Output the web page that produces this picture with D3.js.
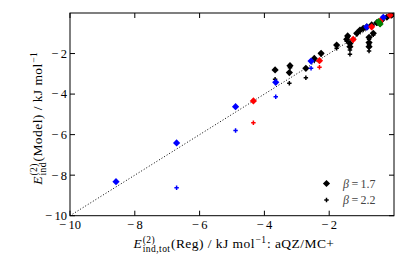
<!DOCTYPE html>
<html>
<head>
<meta charset="utf-8">
<script src="https://cdn.jsdelivr.net/npm/d3@7"></script>
<style>
    body { margin: 0; background: #fff; }
    text { font-family: "Liberation Serif", "DejaVu Serif", serif; fill: #000; }
</style>
</head>
<body>
<div id="chart"></div>
<script>
// beta = 1.7 (big markers) and beta = 2.2 (small markers) share the x value
const blackX     = [-3.67, -3.21, -3.23, -2.72, -2.46, -2.25, -1.77, -1.43, -1.46, -1.36, -1.36, -0.77, -0.77, -0.77, -0.64, -1.15, -1.05, -0.95, -0.84, -0.69, -0.53, -0.38, -0.22, -0.07];
const blackBig   = [-2.81, -2.60, -2.94, -2.73, -2.24, -1.99, -1.58, -1.13, -1.30, -1.50, -1.66, -1.20, -1.46, -1.66, -1.00, -1.00, -0.84, -0.76, -0.68, -0.59, -0.48, -0.35, -0.21, -0.10];
const blackSmall = [-3.27, -2.70, -3.47, -3.19, -2.35, -2.05, -1.74, -1.20, -1.40, -1.83, -2.04, -1.30, -1.55, -1.87, -1.08, -1.05, -0.90, -0.80, -0.72, -0.64, -0.52, -0.38, -0.24, -0.12];

const blueX     = [-8.58, -6.71, -4.89, -3.65, -2.56, -0.84, -0.33];
const blueBig   = [-8.32, -6.41, -4.62, -3.42, -2.37, -0.68, -0.21];
const blueSmall = [null, -8.62, -5.80, -4.13, -2.73, -0.74, -0.24];

const redX     = [-4.34, -2.30, -1.26, -0.69, -0.43, -0.12];
const redBig   = [-4.34, -2.35, -1.30, -0.68, -0.40, -0.10];
const redSmall = [-5.41, -2.68, -1.36, -0.72, -0.48, -0.13];

const greenX     = [-0.48, -0.43];
const greenBig   = [-0.43, -0.54];
const greenSmall = [-0.46, -0.58];

const xTicks = [-10, -8, -6, -4, -2];
const yTicks = [-10, -8, -6, -4, -2];
const legendLabels = ["1.7", "2.2"];

const series = [
    {color: "#000000", x: blackX, big: blackBig, small: blackSmall},
    {color: "#0000ff", x: blueX, big: blueBig, small: blueSmall},
    {color: "#ff0000", x: redX, big: redBig, small: redSmall},
    {color: "#008000", x: greenX, big: greenBig, small: greenSmall}
];

const W = 415, H = 260;
const margin = {top: 13, right: 21, bottom: 44.3, left: 70};
const width = W - margin.left - margin.right;
const height = H - margin.top - margin.bottom;

const svg = d3.select("#chart").append("svg")
    .attr("width", W)
    .attr("height", H);

const g = svg.append("g")
    .attr("transform", `translate(${margin.left}, ${margin.top})`);

const x = d3.scaleLinear().domain([-10, 0]).range([0, width]);
const y = d3.scaleLinear().domain([-10, 0]).range([height, 0]);

g.append("clipPath").attr("id", "clip")
    .append("rect").attr("width", width).attr("height", height);

// y = x reference line
g.append("line")
    .attr("x1", x(-10)).attr("y1", y(-10))
    .attr("x2", x(0)).attr("y2", y(0))
    .attr("stroke", "#000")
    .attr("stroke-width", 1)
    .attr("stroke-dasharray", "1,2");

const bigSym = d3.symbol().type(d3.symbolSquare).size(26);
const smallSym = d3.symbol().type(d3.symbolCross).size(11);

const pts = g.append("g").attr("clip-path", "url(#clip)");

series.forEach(s => {
    const rows = s.x.map((v, i) => ({x: v, big: s.big[i], small: s.small[i]}));
    pts.selectAll(null)
        .data(rows.filter(d => d.small !== null))
        .enter()
        .append("path")
        .attr("d", smallSym)
        .attr("transform", d => `translate(${x(d.x)}, ${y(d.small)})`)
        .attr("fill", s.color);
    pts.selectAll(null)
        .data(rows)
        .enter()
        .append("path")
        .attr("d", bigSym)
        .attr("transform", d => `translate(${x(d.x)}, ${y(d.big)}) rotate(45)`)
        .attr("fill", s.color);
});

// ticks (inward, on all four sides)
const tickLen = 5;
const fmt = t => "\u2212\u2009" + Math.abs(t);
xTicks.forEach(t => {
    g.append("line").attr("x1", x(t)).attr("x2", x(t)).attr("y1", height).attr("y2", height - tickLen).attr("stroke", "#000");
    g.append("line").attr("x1", x(t)).attr("x2", x(t)).attr("y1", 0).attr("y2", tickLen).attr("stroke", "#000");
    g.append("text")
        .attr("x", x(t)).attr("y", height + 13)
        .attr("text-anchor", "middle")
        .attr("font-size", 12.5)
        .text(fmt(t));
});
yTicks.forEach(t => {
    g.append("line").attr("y1", y(t)).attr("y2", y(t)).attr("x1", 0).attr("x2", tickLen).attr("stroke", "#000");
    g.append("line").attr("y1", y(t)).attr("y2", y(t)).attr("x1", width).attr("x2", width - tickLen).attr("stroke", "#000");
    g.append("text")
        .attr("x", -3).attr("y", y(t))
        .attr("dy", "0.35em")
        .attr("text-anchor", "end")
        .attr("font-size", 12.5)
        .text(fmt(t));
});

g.append("rect")
    .attr("width", width).attr("height", height)
    .attr("fill", "none")
    .attr("stroke", "#000")
    .attr("stroke-width", 1);

// label with stacked super/subscript after E
function mathLabel(parent, sub, rest, tail) {
    const lab = parent.append("g").style("letter-spacing", "0.45px");
    let cx = 0;
    const e = lab.append("text").attr("x", cx).attr("font-size", 13.5).attr("font-style", "italic").text("E");
    cx += e.node().getComputedTextLength() + 0.5;
    const sp = lab.append("text").attr("x", cx).attr("y", -5.5).attr("font-size", 9.5).text("(2)");
    const sb = lab.append("text").attr("x", cx).attr("y", 3.5).attr("font-size", 9.5).text(sub);
    cx += Math.max(sp.node().getComputedTextLength(), sb.node().getComputedTextLength()) + 0.5;
    const r = lab.append("text").attr("x", cx).attr("font-size", 13.5).text(rest);
    cx += r.node().getComputedTextLength() + 0.5;
    const ex = lab.append("text").attr("x", cx).attr("y", -5.5).attr("font-size", 9.5).text("\u22121");
    cx += ex.node().getComputedTextLength() + 0.5;
    if (tail) {
        const t = lab.append("text").attr("x", cx).attr("font-size", 13.5).text(tail);
        cx += t.node().getComputedTextLength();
    }
    return {lab, w: cx};
}

const xl = mathLabel(svg, "ind,tot", "(Reg) / kJ mol", " : aQZ/MC+");
xl.lab.attr("transform", `translate(${234 - xl.w / 2}, 248)`);

const yl = mathLabel(svg, "ind", "(Model) / kJ mol", null);
yl.lab.attr("transform", `translate(42, ${118 + yl.w / 2}) rotate(-90)`);

// legend
const legend = g.append("g");
legendLabels.forEach((l, i) => {
    const ly = 170.5 + i * 16.5;
    legend.append("path")
        .attr("d", i === 0 ? bigSym : smallSym)
        .attr("transform", `translate(${256.5}, ${ly})` + (i === 0 ? " rotate(45)" : ""))
        .attr("fill", "#000");
    const txt = legend.append("text")
        .attr("x", 273).attr("y", ly)
        .attr("dy", "0.35em")
        .attr("font-size", 12)
        .attr("fill", "#444");
    txt.append("tspan").attr("font-style", "italic").attr("fill", "#444").text("\u03B2");
    txt.append("tspan").attr("fill", "#444").text("\u2009=\u2009" + l);
});
</script>
</body>
</html>
